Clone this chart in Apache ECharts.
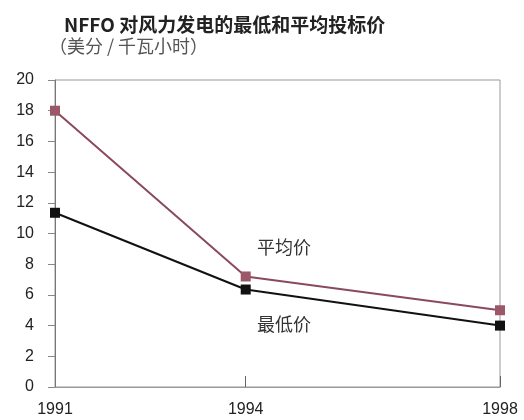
<!DOCTYPE html>
<html><head><meta charset="utf-8">
<script src="https://cdn.jsdelivr.net/npm/echarts@6/dist/echarts.min.js"></script>
<style>html,body{margin:0;padding:0;background:#fff}#c{width:524px;height:420px}</style>
</head><body><div id="c"></div>
<script>
var years = [1991, 1994, 1998];
var avgPrice = [18.0, 7.2, 5.0];
var minPrice = [11.35, 6.35, 4.0];
var yTicks = [0, 2, 4, 6, 8, 10, 12, 14, 16, 18, 20];
var title = 'NFFO 对风力发电的最低和平均投标价';
var subtitle = '（美分 / 千瓦小时）';
var avgLabel = '平均价';
var minLabel = '最低价';

function pairs(xs, ys){ return xs.map(function(x,i){ return [x, ys[i]]; }); }

var chart = echarts.init(document.getElementById('c'));
chart.setOption({
  backgroundColor: '#fff',
  animation: false,
  title: [
    {text: title, left: 59, top: 10, textStyle:{fontFamily:'Noto Sans CJK SC', fontSize:19, fontWeight:'bold', color:'#222'}},
    {text: subtitle, left: 44, top: 32, textStyle:{fontFamily:'Noto Sans CJK SC', fontSize:18, fontWeight:'normal', color:'#555'}}
  ],
  grid: {left: 55, right: 24, top: 80, bottom: 33, show: true, borderColor: '#999', borderWidth: 1, backgroundColor: 'transparent'},
  xAxis: {
    type: 'value', min: 1991, max: 1998,
    axisLine: {show: true, lineStyle:{color:'#999'}},
    splitLine: {show: false},
    axisTick: {show: true, customValues: [1994, 1998], inside: true, length: 11, lineStyle:{color:'#666'}},
    axisLabel: {customValues: years, formatter: function(v){return String(v);}, fontFamily:'Liberation Sans', fontSize:16, color:'#222', margin: 15}
  },
  yAxis: {
    type: 'value', min: 0, max: 20, interval: 2,
    axisLine: {show: true, lineStyle:{color:'#777'}},
    splitLine: {show: false},
    axisTick: {show: true, length: 7, lineStyle:{color:'#888'}},
    axisLabel: {customValues: yTicks, fontFamily:'Liberation Sans', fontSize:16, color:'#222', margin: 21}
  },
  series: [
    {type:'line', data: pairs(years, avgPrice), symbol:'rect', symbolSize: 10,
     lineStyle:{color:'#8a4a5c', width:2}, itemStyle:{color:'#9a5868'}},
    {type:'line', data: pairs(years, minPrice), symbol:'rect', symbolSize: 10,
     lineStyle:{color:'#111', width:2}, itemStyle:{color:'#111'}}
  ],
  graphic: [
    {type:'text', left: 257, top: 238, style:{text: avgLabel, font:'18px "Noto Sans CJK SC"', fill:'#333'}},
    {type:'text', left: 257, top: 315, style:{text: minLabel, font:'18px "Noto Sans CJK SC"', fill:'#333'}}
  ]
});
</script></body></html>
